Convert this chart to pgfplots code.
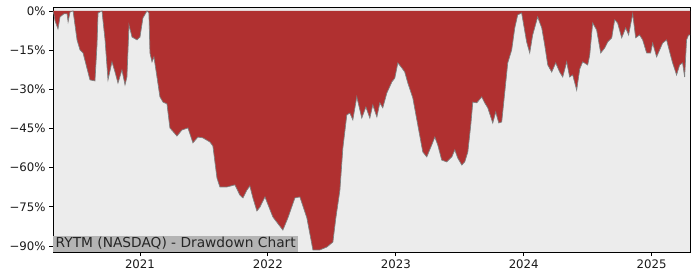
\documentclass[border=0pt]{standalone}
\usepackage{fontspec}
\setmainfont{DejaVu Sans}
\usepackage{pgfplots}
\pgfplotsset{compat=1.18}
\definecolor{ddred}{RGB}{176,48,48}
\definecolor{bgray}{RGB}{236,236,236}
\definecolor{lgray}{RGB}{128,128,128}
\definecolor{boxgray}{RGB}{180,180,180}
\begin{document}
\begin{tikzpicture}
\begin{axis}[
  scale only axis,
  width=637bp, height=245bp,
  xmin=2020.32, xmax=2025.30,
  ymin=-92.3, ymax=1.5,
  axis background/.style={fill=bgray},
  axis line style={black, line width=0.8bp},
  xtick={2021,2022,2023,2024,2025},
  xticklabels={2021,2022,2023,2024,2025},
  ytick={-90,-75,-60,-45,-30,-15,0},
  yticklabels={−90\%,−75\%,−60\%,−45\%,−30\%,−15\%,0\%},
  tick align=outside,
  xtick pos=bottom, ytick pos=left,
  major tick length=4bp,
  tick style={black, line width=0.8bp},
  ticklabel style={font=\fontsize{11.8}{13}\selectfont, text=black!90},
  clip=true,
]
\addplot[fill=ddred, draw=none] coordinates {
(2020.320,0) (2020.328,-1.5) (2020.336,-3.8) (2020.359,-6.9) (2020.375,-2.3) (2020.406,-1.1) (2020.430,-1.1) (2020.438,-4.2) (2020.453,-0.4) (2020.477,0)
(2020.508,-11.1) (2020.531,-14.9) (2020.555,-16.1) (2020.609,-26.4) (2020.648,-26.8) (2020.664,-13.0) (2020.672,-0.8) (2020.703,0)
(2020.727,-11.1) (2020.750,-26.4) (2020.781,-19.5) (2020.805,-23.4) (2020.828,-27.6) (2020.859,-22.6) (2020.883,-28.3) (2020.898,-25.3)
(2020.914,-5.4) (2020.938,-10.0) (2020.977,-11.1) (2021.000,-10.0) (2021.023,-2.7) (2021.055,0) (2021.070,-0.8)
(2021.078,-16.1) (2021.094,-19.5) (2021.109,-17.6) (2021.133,-25.3) (2021.156,-32.9) (2021.180,-34.9) (2021.211,-35.6) (2021.234,-44.8)
(2021.289,-47.9) (2021.328,-45.6) (2021.375,-44.8) (2021.414,-50.5) (2021.453,-48.3) (2021.492,-48.6) (2021.547,-50.2) (2021.570,-51.7)
(2021.602,-64.0) (2021.625,-67.4) (2021.680,-67.4) (2021.742,-66.6) (2021.781,-70.5) (2021.805,-71.6) (2021.836,-68.6) (2021.859,-67.0)
(2021.883,-71.6) (2021.914,-76.6) (2021.938,-75.1) (2021.977,-71.2) (2022.039,-78.9) (2022.117,-83.9) (2022.156,-79.3) (2022.211,-71.6)
(2022.250,-71.2) (2022.305,-79.3) (2022.352,-91.5) (2022.406,-91.5) (2022.461,-90.4) (2022.508,-88.5) (2022.531,-79.3) (2022.563,-68.6)
(2022.586,-52.5) (2022.617,-39.8) (2022.641,-39.1) (2022.664,-41.7) (2022.695,-32.9) (2022.734,-41.0) (2022.766,-36.8) (2022.797,-41.0)
(2022.820,-36.0) (2022.852,-40.6) (2022.875,-35.2) (2022.898,-37.1) (2022.930,-31.4) (2022.969,-27.2) (2022.992,-25.7) (2023.016,-19.9)
(2023.047,-21.8) (2023.070,-23.4) (2023.094,-27.6) (2023.133,-33.3) (2023.172,-43.7) (2023.211,-54.0) (2023.242,-55.9) (2023.281,-51.3)
(2023.305,-48.3) (2023.328,-51.3) (2023.359,-57.1) (2023.398,-57.8) (2023.438,-55.9) (2023.461,-53.2) (2023.484,-56.3) (2023.516,-59.0)
(2023.539,-57.8) (2023.563,-54.0) (2023.586,-43.7) (2023.602,-34.9) (2023.633,-35.2) (2023.672,-32.9) (2023.695,-35.2) (2023.719,-37.1)
(2023.758,-42.9) (2023.781,-38.7) (2023.805,-42.9) (2023.828,-42.5) (2023.852,-31.0) (2023.875,-19.9) (2023.906,-14.9) (2023.930,-6.5)
(2023.953,-1.5) (2023.984,-0.8) (2024.000,-5.4) (2024.023,-11.9) (2024.047,-16.1) (2024.070,-9.2) (2024.109,-2.3) (2024.141,-6.5)
(2024.164,-13.0) (2024.188,-20.7) (2024.219,-23.4) (2024.250,-19.9) (2024.281,-23.4) (2024.305,-25.3) (2024.336,-19.5) (2024.359,-25.3)
(2024.383,-24.5) (2024.414,-30.3) (2024.438,-22.2) (2024.461,-19.5) (2024.500,-20.7) (2024.516,-16.9) (2024.539,-4.6) (2024.570,-7.3)
(2024.602,-16.1) (2024.633,-14.2) (2024.656,-11.9) (2024.688,-10.3) (2024.711,-3.4) (2024.734,-4.6) (2024.766,-10.3) (2024.797,-6.5)
(2024.820,-9.2) (2024.852,-1.1) (2024.875,-10.3) (2024.906,-9.2) (2024.930,-11.1) (2024.961,-16.1) (2024.992,-16.1) (2025.008,-12.3)
(2025.039,-17.6) (2025.086,-12.3) (2025.117,-11.1) (2025.141,-15.7) (2025.164,-19.9) (2025.195,-24.5) (2025.219,-20.7) (2025.242,-19.9)
(2025.258,-25.3) (2025.273,-11.1) (2025.289,-9.2) (2025.300,-9.2)
} \closedcycle;
\addplot[lgray, line width=0.7bp] coordinates {
(2020.320,0) (2020.328,-1.5) (2020.336,-3.8) (2020.359,-6.9) (2020.375,-2.3) (2020.406,-1.1) (2020.430,-1.1) (2020.438,-4.2) (2020.453,-0.4) (2020.477,0)
(2020.508,-11.1) (2020.531,-14.9) (2020.555,-16.1) (2020.609,-26.4) (2020.648,-26.8) (2020.664,-13.0) (2020.672,-0.8) (2020.703,0)
(2020.727,-11.1) (2020.750,-26.4) (2020.781,-19.5) (2020.805,-23.4) (2020.828,-27.6) (2020.859,-22.6) (2020.883,-28.3) (2020.898,-25.3)
(2020.914,-5.4) (2020.938,-10.0) (2020.977,-11.1) (2021.000,-10.0) (2021.023,-2.7) (2021.055,0) (2021.070,-0.8)
(2021.078,-16.1) (2021.094,-19.5) (2021.109,-17.6) (2021.133,-25.3) (2021.156,-32.9) (2021.180,-34.9) (2021.211,-35.6) (2021.234,-44.8)
(2021.289,-47.9) (2021.328,-45.6) (2021.375,-44.8) (2021.414,-50.5) (2021.453,-48.3) (2021.492,-48.6) (2021.547,-50.2) (2021.570,-51.7)
(2021.602,-64.0) (2021.625,-67.4) (2021.680,-67.4) (2021.742,-66.6) (2021.781,-70.5) (2021.805,-71.6) (2021.836,-68.6) (2021.859,-67.0)
(2021.883,-71.6) (2021.914,-76.6) (2021.938,-75.1) (2021.977,-71.2) (2022.039,-78.9) (2022.117,-83.9) (2022.156,-79.3) (2022.211,-71.6)
(2022.250,-71.2) (2022.305,-79.3) (2022.352,-91.5) (2022.406,-91.5) (2022.461,-90.4) (2022.508,-88.5) (2022.531,-79.3) (2022.563,-68.6)
(2022.586,-52.5) (2022.617,-39.8) (2022.641,-39.1) (2022.664,-41.7) (2022.695,-32.9) (2022.734,-41.0) (2022.766,-36.8) (2022.797,-41.0)
(2022.820,-36.0) (2022.852,-40.6) (2022.875,-35.2) (2022.898,-37.1) (2022.930,-31.4) (2022.969,-27.2) (2022.992,-25.7) (2023.016,-19.9)
(2023.047,-21.8) (2023.070,-23.4) (2023.094,-27.6) (2023.133,-33.3) (2023.172,-43.7) (2023.211,-54.0) (2023.242,-55.9) (2023.281,-51.3)
(2023.305,-48.3) (2023.328,-51.3) (2023.359,-57.1) (2023.398,-57.8) (2023.438,-55.9) (2023.461,-53.2) (2023.484,-56.3) (2023.516,-59.0)
(2023.539,-57.8) (2023.563,-54.0) (2023.586,-43.7) (2023.602,-34.9) (2023.633,-35.2) (2023.672,-32.9) (2023.695,-35.2) (2023.719,-37.1)
(2023.758,-42.9) (2023.781,-38.7) (2023.805,-42.9) (2023.828,-42.5) (2023.852,-31.0) (2023.875,-19.9) (2023.906,-14.9) (2023.930,-6.5)
(2023.953,-1.5) (2023.984,-0.8) (2024.000,-5.4) (2024.023,-11.9) (2024.047,-16.1) (2024.070,-9.2) (2024.109,-2.3) (2024.141,-6.5)
(2024.164,-13.0) (2024.188,-20.7) (2024.219,-23.4) (2024.250,-19.9) (2024.281,-23.4) (2024.305,-25.3) (2024.336,-19.5) (2024.359,-25.3)
(2024.383,-24.5) (2024.414,-30.3) (2024.438,-22.2) (2024.461,-19.5) (2024.500,-20.7) (2024.516,-16.9) (2024.539,-4.6) (2024.570,-7.3)
(2024.602,-16.1) (2024.633,-14.2) (2024.656,-11.9) (2024.688,-10.3) (2024.711,-3.4) (2024.734,-4.6) (2024.766,-10.3) (2024.797,-6.5)
(2024.820,-9.2) (2024.852,-1.1) (2024.875,-10.3) (2024.906,-9.2) (2024.930,-11.1) (2024.961,-16.1) (2024.992,-16.1) (2025.008,-12.3)
(2025.039,-17.6) (2025.086,-12.3) (2025.117,-11.1) (2025.141,-15.7) (2025.164,-19.9) (2025.195,-24.5) (2025.219,-20.7) (2025.242,-19.9)
(2025.258,-25.3) (2025.273,-11.1) (2025.289,-9.2) (2025.300,-9.2)
};
\node[anchor=south west, fill=boxgray, inner xsep=2.5bp, inner ysep=2bp,
      font=\fontsize{13.8}{15}\selectfont, text=black!85]
  at (rel axis cs:0,0) {RYTM (NASDAQ) - Drawdown Chart};
\end{axis}
\pgfresetboundingbox
\path[use as bounding box] ([shift={(-53bp,-28bp)}]current axis.south west) rectangle ([shift={(10bp,7bp)}]current axis.north east);
\end{tikzpicture}
\end{document}
